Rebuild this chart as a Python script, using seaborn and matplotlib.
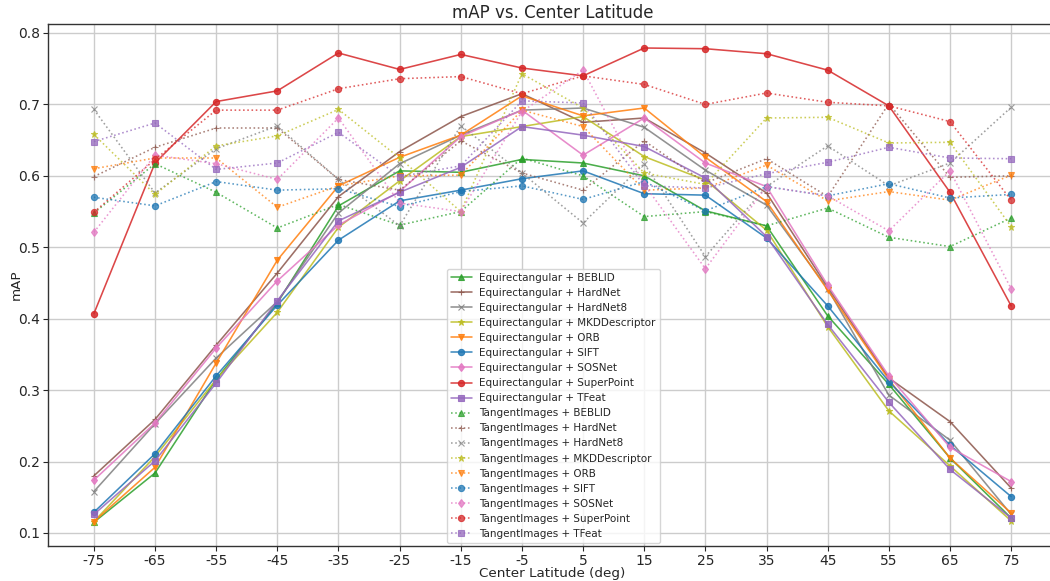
import numpy as np
import pandas as pd
import matplotlib
matplotlib.use("Agg")
import matplotlib.pyplot as plt
import seaborn as sns

latitudes = [-75, -65, -55, -45, -35, -25, -15, -5, 5, 15, 25, 35, 45, 55, 65, 75]

descriptors = ["BEBLID", "HardNet", "HardNet8", "MKDDescriptor", "ORB",
               "SIFT", "SOSNet", "SuperPoint", "TFeat"]

# Equirectangular (solid lines)
eq_beblid = [0.115, 0.184, 0.315, 0.422, 0.558, 0.607, 0.605, 0.623, 0.618, 0.600, 0.551, 0.530, 0.404, 0.308, 0.205, 0.121]
eq_hardnet = [0.180, 0.259, 0.363, 0.464, 0.571, 0.634, 0.683, 0.715, 0.675, 0.681, 0.632, 0.576, 0.444, 0.317, 0.256, 0.163]
eq_hardnet8 = [0.158, 0.253, 0.345, 0.424, 0.548, 0.617, 0.657, 0.692, 0.695, 0.668, 0.608, 0.559, 0.442, 0.293, 0.230, 0.126]
eq_mkd = [0.116, 0.207, 0.315, 0.409, 0.528, 0.593, 0.655, 0.669, 0.683, 0.627, 0.594, 0.524, 0.389, 0.271, 0.194, 0.117]
eq_orb = [0.116, 0.192, 0.338, 0.482, 0.586, 0.626, 0.657, 0.712, 0.684, 0.695, 0.626, 0.564, 0.440, 0.315, 0.205, 0.128]
eq_sift = [0.129, 0.211, 0.320, 0.419, 0.510, 0.565, 0.580, 0.596, 0.607, 0.575, 0.573, 0.513, 0.418, 0.312, 0.223, 0.151]
eq_sosnet = [0.174, 0.254, 0.359, 0.453, 0.531, 0.578, 0.655, 0.692, 0.629, 0.681, 0.618, 0.585, 0.447, 0.320, 0.220, 0.172]
eq_superpoint = [0.407, 0.618, 0.704, 0.719, 0.772, 0.749, 0.770, 0.751, 0.740, 0.779, 0.778, 0.771, 0.748, 0.698, 0.577, 0.418]
eq_tfeat = [0.126, 0.201, 0.310, 0.425, 0.537, 0.577, 0.612, 0.669, 0.657, 0.641, 0.597, 0.515, 0.392, 0.283, 0.189, 0.121]

# TangentImages (dotted lines)
ti_beblid = [0.548, 0.617, 0.577, 0.527, 0.560, 0.531, 0.550, 0.625, 0.600, 0.543, 0.550, 0.530, 0.555, 0.514, 0.501, 0.541]
ti_hardnet = [0.599, 0.640, 0.667, 0.667, 0.595, 0.580, 0.649, 0.604, 0.580, 0.649, 0.590, 0.624, 0.571, 0.701, 0.598, 0.600]
ti_hardnet8 = [0.693, 0.576, 0.638, 0.670, 0.595, 0.530, 0.670, 0.604, 0.534, 0.617, 0.487, 0.585, 0.642, 0.586, 0.618, 0.696]
ti_mkd = [0.658, 0.574, 0.642, 0.656, 0.693, 0.625, 0.550, 0.743, 0.695, 0.604, 0.588, 0.681, 0.682, 0.646, 0.647, 0.529]
ti_orb = [0.610, 0.625, 0.625, 0.556, 0.586, 0.600, 0.601, 0.692, 0.669, 0.580, 0.583, 0.615, 0.565, 0.578, 0.566, 0.601]
ti_sift = [0.570, 0.558, 0.592, 0.580, 0.582, 0.557, 0.578, 0.586, 0.567, 0.592, 0.551, 0.585, 0.572, 0.589, 0.569, 0.574]
ti_sosnet = [0.521, 0.629, 0.617, 0.595, 0.681, 0.562, 0.550, 0.690, 0.748, 0.588, 0.470, 0.585, 0.572, 0.523, 0.607, 0.442]
ti_superpoint = [0.549, 0.623, 0.692, 0.692, 0.722, 0.736, 0.739, 0.715, 0.740, 0.728, 0.700, 0.716, 0.703, 0.698, 0.676, 0.566]
ti_tfeat = [0.648, 0.674, 0.609, 0.618, 0.661, 0.599, 0.614, 0.705, 0.702, 0.586, 0.583, 0.603, 0.619, 0.640, 0.625, 0.624]

eq_series = [eq_beblid, eq_hardnet, eq_hardnet8, eq_mkd, eq_orb, eq_sift, eq_sosnet, eq_superpoint, eq_tfeat]
ti_series = [ti_beblid, ti_hardnet, ti_hardnet8, ti_mkd, ti_orb, ti_sift, ti_sosnet, ti_superpoint, ti_tfeat]

colors = ["tab:green", "tab:brown", "tab:gray", "tab:olive", "tab:orange",
          "tab:blue", "tab:pink", "tab:red", "tab:purple"]
markers = ["^", "+", "x", "*", "v", "o", "d", "o", "s"]

sns.set_style("white")
plt.rcParams['font.family'] = ['DejaVu Sans']

fig = plt.figure(figsize=(10.5, 5.81), dpi=100)
ax = fig.add_axes([48 / 1050, 35 / 581, 1009 / 1050, 522 / 581])

for projection, series_list, ls, alpha in [("Equirectangular", eq_series, "-", 0.85),
                                           ("TangentImages", ti_series, ":", 0.75)]:
    for name, vals, c, m in zip(descriptors, series_list, colors, markers):
        df = pd.DataFrame({"lat": latitudes, "mAP": vals})
        sns.lineplot(data=df, x="lat", y="mAP", ax=ax, color=c, linestyle=ls,
                     marker=m, markersize=4.5, linewidth=1.15, alpha=alpha,
                     markeredgecolor=c, markeredgewidth=0.8,
                     label=f"{projection} + {name}")

ax.set_xticks(latitudes)
ax.set_xticklabels([str(v) for v in latitudes])
ax.set_yticks([0.1, 0.2, 0.3, 0.4, 0.5, 0.6, 0.7, 0.8])
ax.set_xlim(-82.5, 82.5)
ax.set_ylim(0.0818, 0.8126)
ax.grid(True, color="#cccccc", linewidth=1.0)
ax.tick_params(axis="both", labelsize=10, length=3.5, pad=2, direction="out", bottom=True, left=True)
for s in ax.spines.values():
    s.set_color("#333333")
    s.set_linewidth(1.0)
ax.set_xlabel("Center Latitude (deg)", fontsize=9.7)
ax.set_ylabel("mAP", fontsize=9.7)
ax.xaxis.set_label_coords(0.5, -0.0405)
ax.yaxis.set_label_coords((23 - 48) / 1009, 0.5)
ax.set_title("mAP vs. Center Latitude", fontsize=12, pad=4)

leg = ax.legend(loc="lower left", bbox_to_anchor=((447 - 48) / 1009, (546 - 543) / 522),
                borderaxespad=0, fontsize=7.45, labelspacing=0.49, handlelength=2.0,
                handletextpad=0.7, borderpad=0.4, frameon=True, framealpha=0.8)

fig.savefig("out.png", dpi=100)
